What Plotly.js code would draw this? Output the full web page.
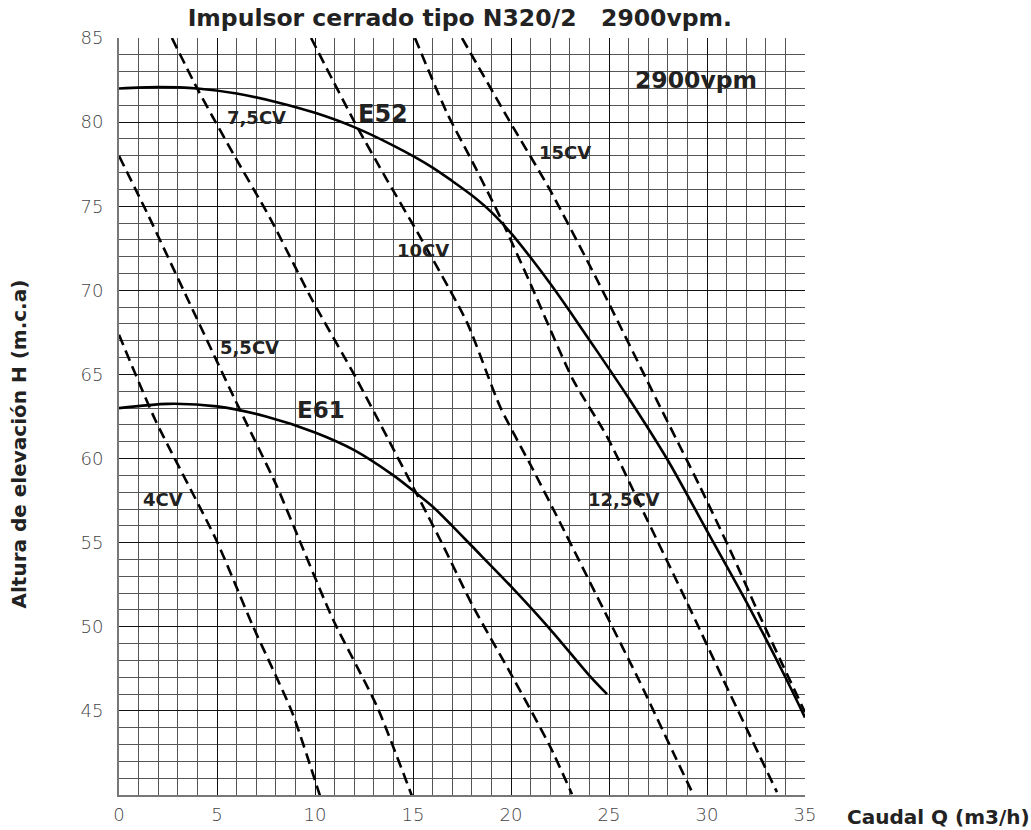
<!DOCTYPE html>
<html>
<head>
<meta charset="utf-8">
<script src="https://cdn.plot.ly/plotly-3.0.1.min.js"></script>
<style>html,body{margin:0;padding:0;background:#fff;}#chart{width:1031px;height:830px;}</style>
</head>
<body>
<div id="chart"></div>
<script>
// Pump curves (Q m3/h, H m.c.a)
const e52Q = [0, 2, 4, 6, 8, 10, 12, 14, 16, 17, 18, 19, 20, 21, 22, 23, 24, 26, 28, 30, 32, 34, 35];
const e52H = [82.0, 82.08, 82.0, 81.7, 81.2, 80.55, 79.7, 78.6, 77.3, 76.5, 75.65, 74.65, 73.4, 71.95, 70.4, 68.75, 67.05, 63.6, 59.9, 55.7, 51.5, 47.0, 44.6];
const e61Q = [0, 2.5, 5, 7.5, 10, 12, 14, 15, 16, 17, 18, 20, 22, 24, 24.9];
const e61H = [63.0, 63.25, 63.1, 62.5, 61.55, 60.5, 59.0, 58.1, 57.15, 56.0, 54.8, 52.4, 49.85, 47.1, 46.0];

// Power lines (dashed)
const cv4Q = [0, 1.84, 4.95, 6.84, 8.83, 10.26];
const cv4H = [67.36, 62.32, 55.19, 50.02, 44.92, 39.93];
const cv55Q = [0, 1.43, 3.52, 5.92, 8.06, 9.34, 10.92, 13.16, 14.95];
const cv55H = [77.99, 74.61, 69.44, 63.5, 58.34, 54.77, 50.43, 45.27, 39.93];
const cv75Q = [2.7, 4.03, 5.92, 7.7, 9.85, 12.14, 16.38, 18.06, 19.95, 21.99, 23.11];
const cv75H = [85, 81.91, 77.93, 74.31, 69.44, 64.69, 55.19, 51.21, 47.29, 42.9, 40.05];
const cv10Q = [9.8, 12.04, 13.67, 15.36, 17.76, 19.44, 21.12, 22.5, 24.9, 26.58, 28.27, 29.29];
const cv10H = [85, 79.95, 76.57, 73.18, 68.08, 63.09, 59.35, 56.2, 50.62, 46.7, 42.54, 40.05];
const cv125Q = [15.1, 16.73, 18.06, 19.44, 20.97, 23.16, 24.9, 26.94, 28.98, 30.82, 33.57];
const cv125H = [85, 80.55, 77.58, 74.37, 70.45, 64.69, 61.31, 56.38, 51.45, 46.88, 40.17];
const cv15Q = [17.5, 19.8, 21.99, 24.39, 27.6, 29.64, 31.33, 32.7, 35.0];
const cv15H = [85, 80.31, 75.97, 70.63, 63.09, 58.34, 54.18, 50.62, 44.92];

const xTicks = [0, 5, 10, 15, 20, 25, 30, 35];
const yTicks = [45, 50, 55, 60, 65, 70, 75, 80, 85];

// Labels
const lblText = ['7,5CV', 'E52', '15CV', '10CV', '5,5CV', 'E61', '4CV', '12,5CV', '2900vpm'];
const lblQ = [6.99, 13.47, 22.76, 15.51, 6.68, 10.31, 2.24, 25.77, 29.44];
const lblH = [80.25, 80.49, 78.17, 72.35, 66.59, 62.91, 57.57, 57.57, 82.51];
const lblSize = [18, 24, 18, 18, 18, 23, 18, 18, 23.5];

const dashStyle = {color: '#000', width: 2.6, dash: '11px,6px'};
function dashed(q, h) {
  return {x: q, y: h, mode: 'lines', line: Object.assign({shape: 'spline', smoothing: 0.6}, dashStyle), hoverinfo: 'skip'};
}

const traces = [
  dashed(cv4Q, cv4H), dashed(cv55Q, cv55H), dashed(cv75Q, cv75H),
  dashed(cv10Q, cv10H), dashed(cv125Q, cv125H), dashed(cv15Q, cv15H),
  {x: e52Q, y: e52H, mode: 'lines', line: {color: '#000', width: 2.6, shape: 'spline', smoothing: 0.8}},
  {x: e61Q, y: e61H, mode: 'lines', line: {color: '#000', width: 2.6, shape: 'spline', smoothing: 0.8}}
];

const annotations = lblText.map((t, i) => ({
  x: lblQ[i], y: lblH[i], xref: 'x', yref: 'y', text: t, showarrow: false,
  font: {family: 'DejaVu Sans', size: lblSize[i], color: '#222', weight: 'bold'}
}));
annotations.push({
  xref: 'paper', yref: 'paper', x: 1, y: 0, xanchor: 'left', yanchor: 'middle',
  xshift: 40, yshift: -22, text: 'Caudal Q (m3/h)', showarrow: false,
  font: {family: 'DejaVu Sans', size: 20, color: '#222', weight: 'bold'}
});
annotations.push({
  xref: 'paper', yref: 'paper', x: 0, y: 0.5, xanchor: 'center', yanchor: 'middle',
  xshift: -101, yshift: -28, textangle: -90, text: 'Altura de elevación H (m.c.a)', showarrow: false,
  font: {family: 'DejaVu Sans', size: 20, color: '#222', weight: 'bold'}
});

const tickFont = {family: 'DejaVu Sans', size: 18, color: '#444', weight: 200};

const layout = {
  width: 1031, height: 830,
  margin: {l: 119, r: 226, t: 38, b: 35},
  paper_bgcolor: '#fff', plot_bgcolor: '#fff',
  showlegend: false,
  title: {
    text: 'Impulsor cerrado tipo N320/2\u00a0\u00a0 2900vpm.',
    font: {family: 'DejaVu Sans', size: 23.5, color: '#222', weight: 'bold'},
    x: 0.446, xanchor: 'center', y: 0.978, yanchor: 'middle'
  },
  xaxis: {
    range: [0, 35], tickvals: xTicks, ticktext: xTicks.map(String),
    showgrid: true, gridcolor: '#111', gridwidth: 1,
    minor: {dtick: 1, showgrid: true, gridcolor: '#555', gridwidth: 1},
    showline: true, linecolor: '#777', linewidth: 2, mirror: false,
    zeroline: false, ticks: '', tickfont: tickFont, ticklabelstandoff: 2
  },
  yaxis: {
    range: [40, 85], tickvals: yTicks, ticktext: yTicks.map(String),
    showgrid: true, gridcolor: '#111', gridwidth: 1,
    minor: {dtick: 1, showgrid: true, gridcolor: '#555', gridwidth: 1},
    showline: true, linecolor: '#777', linewidth: 2, mirror: false,
    zeroline: false, ticks: '', tickfont: tickFont, ticklabelstandoff: 10
  },
  annotations: annotations
};

Plotly.newPlot('chart', traces, layout, {displayModeBar: false, staticPlot: true});
</script>
</body>
</html>
